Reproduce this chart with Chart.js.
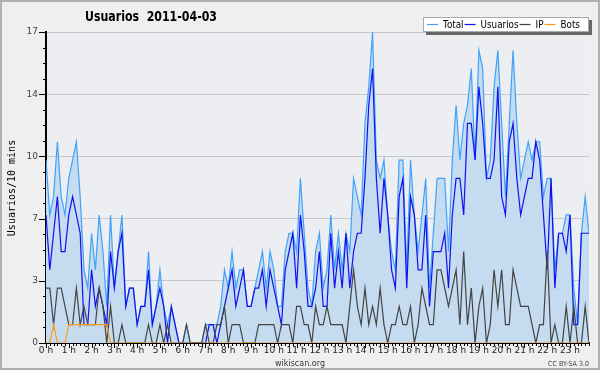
<!DOCTYPE html>
<html>
<head>
<meta charset="utf-8">
<script src="https://cdn.jsdelivr.net/npm/chart.js@4.4.0/dist/chart.umd.min.js"></script>
<style>
  html, body { margin: 0; padding: 0; background: #efefef; }
  canvas { display: block; }
</style>
</head>
<body>
<canvas id="chart" width="600" height="370"></canvas>
<script>
// one value every 10 minutes, 144 points for the day
const total = [
  10, 7, 8, 11, 8, 7, 9, 10, 11, 8, 4, 3, 6, 4, 7, 5, 2, 7, 3, 5, 7, 2, 3, 3,
  1, 2, 2, 5, 1, 2, 4, 2, 1, 2, 1, 0, 0, 1, 0, 0, 0, 0, 1, 1, 1, 1, 2, 4,
  3, 5, 3, 4, 4, 2, 2, 3, 4, 5, 3, 5, 4, 2, 2, 5, 6, 6, 5, 9, 6, 3, 2, 5,
  6, 3, 4, 7, 4, 6, 4, 6, 5, 9, 8, 7, 12, 14, 17, 10, 9, 10, 7, 5, 4, 10, 10, 4,
  10, 7, 5, 7, 9, 3, 6, 9, 9, 9, 5, 10, 13, 10, 12, 13, 15, 10, 16, 15, 9, 10, 14, 16,
  12, 8, 12, 16, 12, 9, 10, 11, 10, 11, 11, 8, 9, 9, 4, 6, 6, 7, 7, 3, 1, 6, 8, 6
];
const usuarios = [
  7, 4, 6, 8, 5, 5, 7, 8, 7, 6, 1, 1, 4, 2, 3, 2, 1, 5, 3, 5, 6, 2, 3, 3,
  1, 2, 2, 4, 1, 2, 3, 2, 0, 2, 1, 0, 0, 0, 0, 0, 0, 0, 0, 1, 1, 0, 1, 2,
  3, 4, 2, 3, 4, 2, 2, 3, 3, 4, 2, 4, 3, 2, 1, 4, 5, 6, 3, 7, 5, 2, 2, 3,
  5, 2, 2, 6, 3, 5, 3, 6, 3, 5, 6, 6, 9, 13, 15, 9, 6, 9, 7, 4, 3, 8, 9, 3,
  8, 7, 4, 4, 7, 2, 5, 5, 5, 6, 3, 7, 9, 9, 7, 12, 12, 10, 14, 12, 9, 9, 10, 14,
  8, 7, 11, 12, 9, 7, 8, 9, 9, 11, 10, 7, 4, 9, 3, 6, 6, 5, 7, 1, 1, 6, 6, 6
];
const ip = [
  3, 3, 1, 3, 3, 2, 1, 1, 3, 1, 2, 1, 1, 1, 3, 2, 0, 2, 0, 0, 1, 0, 0, 0,
  0, 0, 0, 1, 0, 0, 1, 0, 1, 0, 0, 0, 0, 1, 0, 0, 0, 0, 1, 0, 0, 1, 1, 2,
  0, 1, 1, 1, 0, 0, 0, 0, 1, 1, 1, 1, 1, 0, 1, 1, 1, 0, 2, 2, 1, 1, 0, 2,
  1, 1, 2, 1, 1, 1, 1, 0, 2, 4, 2, 1, 3, 1, 2, 1, 3, 1, 0, 1, 1, 2, 1, 1,
  2, 0, 1, 3, 2, 1, 1, 4, 4, 3, 2, 3, 4, 1, 5, 1, 3, 0, 2, 3, 0, 1, 4, 2,
  4, 1, 1, 4, 3, 2, 2, 2, 1, 0, 1, 1, 5, 0, 1, 0, 0, 2, 0, 2, 0, 0, 2, 0
];
const bots = [
  0, 0, 1, 0, 0, 0, 1, 1, 1, 1, 1, 1, 1, 1, 1, 1, 1, 0, 0, 0, 0, 0, 0, 0,
  0, 0, 0, 0, 0, 0, 0, 0, 0, 0, 0, 0, 0, 0, 0, 0, 0, 0, 0, 0, 0, 0, 0, 0,
  0, 0, 0, 0, 0, 0, 0, 0, 0, 0, 0, 0, 0, 0, 0, 0, 0, 0, 0, 0, 0, 0, 0, 0,
  0, 0, 0, 0, 0, 0, 0, 0, 0, 0, 0, 0, 0, 0, 0, 0, 0, 0, 0, 0, 0, 0, 0, 0,
  0, 0, 0, 0, 0, 0, 0, 0, 0, 0, 0, 0, 0, 0, 0, 0, 0, 0, 0, 0, 0, 0, 0, 0,
  0, 0, 0, 0, 0, 0, 0, 0, 0, 0, 0, 0, 0, 0, 0, 0, 0, 0, 0, 0, 0, 0, 0, 0
];
const horas = ['0 h', '1 h', '2 h', '3 h', '4 h', '5 h', '6 h', '7 h', '8 h', '9 h', '10 h', '11 h',
  '12 h', '13 h', '14 h', '15 h', '16 h', '17 h', '18 h', '19 h', '20 h', '21 h', '22 h', '23 h'];
const yTicks = [0, 3.4, 6.8, 10.2, 13.6, 17];
const yLabels = ['0', '3', '7', '10', '14', '17'];

const pts = arr => arr.map((v, i) => ({ x: i, y: v }));
const FONT = '"DejaVu Sans", "Liberation Sans", sans-serif';

// fondo, marco y textos que no son de Chart.js
const decor = {
  id: 'decor',
  beforeDraw(chart) {
    const { ctx, chartArea: a } = chart;
    ctx.save();
    ctx.fillStyle = '#efefef';
    ctx.fillRect(0, 0, 600, 370);
    ctx.strokeStyle = '#b0b0b0';
    ctx.lineWidth = 2;
    ctx.strokeRect(1, 1, 598, 368);
    ctx.fillStyle = '#eceef1';
    ctx.fillRect(a.left, a.top, a.right - a.left, a.bottom - a.top);
    ctx.restore();
  },
  afterDraw(chart) {
    const { ctx, chartArea: a } = chart;
    const xs = chart.scales.x, ys = chart.scales.y;
    ctx.save();

    // minor ticks
    ctx.strokeStyle = '#000';
    ctx.lineWidth = 1;
    ctx.beginPath();
    for (let i = 0; i <= 143; i++) {
      const px = Math.round(xs.getPixelForValue(i)) + 0.5;
      const len = i % 6 === 0 ? 5 : 3;
      ctx.moveTo(px, a.bottom);
      ctx.lineTo(px, a.bottom + len);
    }
    for (let k = 0; k <= 20; k++) {
      const py = Math.round(ys.getPixelForValue(k * 0.85)) + 0.5;
      const len = k % 4 === 0 ? 7 : 3;
      ctx.moveTo(a.left, py);
      ctx.lineTo(a.left - len, py);
    }
    ctx.stroke();

    // title
    ctx.fillStyle = '#000';
    ctx.font = 'bold 14px ' + FONT;
    ctx.textAlign = 'center';
    ctx.textBaseline = 'alphabetic';
    ctx.fillText('Usuarios  2011-04-03', 151, 21, 132);

    // y axis title
    ctx.save();
    ctx.translate(12, 188);
    ctx.rotate(-Math.PI / 2);
    ctx.font = '10px "DejaVu Sans Mono", monospace';
    ctx.textBaseline = 'middle';
    ctx.fillText('Usuarios/10 mins', 0, 0);
    ctx.restore();

    // footer
    ctx.font = '9px ' + FONT;
    ctx.fillStyle = '#333';
    ctx.fillText('wikiscan.org', 300, 366, 50);
    ctx.font = '7px ' + FONT;
    ctx.textAlign = 'right';
    ctx.fillStyle = '#444';
    ctx.fillText('CC BY-SA 3.0', 589, 366, 41);

    // legend
    const x0 = 423, y0 = 17, w = 166, h = 15;
    ctx.fillStyle = '#666';
    ctx.fillRect(x0 + 3, y0 + 3, w, h);
    ctx.fillStyle = '#fff';
    ctx.fillRect(x0, y0, w, h);
    ctx.strokeStyle = '#aaa';
    ctx.lineWidth = 1;
    ctx.strokeRect(x0 + 0.5, y0 + 0.5, w - 1, h - 1);
    ctx.font = '11px ' + FONT;
    ctx.textAlign = 'left';
    ctx.textBaseline = 'middle';
    let x = x0 + 4;
    chart.data.datasets.forEach(ds => {
      const tw = ctx.measureText(ds.label).width * 0.8;
      ctx.strokeStyle = ds.borderColor;
      ctx.lineWidth = 1.2;
      ctx.beginPath();
      ctx.moveTo(x, y0 + h / 2);
      ctx.lineTo(x + 11, y0 + h / 2);
      ctx.stroke();
      ctx.fillStyle = '#000';
      ctx.fillText(ds.label, x + 16, y0 + h / 2 + 0.5, tw);
      x += 16 + tw + 1;
    });
    ctx.restore();
  }
};

new Chart(document.getElementById('chart'), {
  type: 'line',
  data: {
    datasets: [
      { label: 'Total', data: pts(total), borderColor: '#40a2f8', backgroundColor: '#c5dcf0', fill: 'origin', order: 4 },
      { label: 'Usuarios', data: pts(usuarios), borderColor: '#1010f0', fill: false, order: 3 },
      { label: 'IP', data: pts(ip), borderColor: '#444444', fill: false, order: 2 },
      { label: 'Bots', data: pts(bots), borderColor: '#ff9a10', fill: false, order: 1 }
    ]
  },
  options: {
    responsive: false,
    animation: false,
    devicePixelRatio: 1,
    layout: { padding: { top: 32, right: 11, left: 0, bottom: 0 } },
    elements: {
      point: { radius: 0 },
      line: { borderWidth: 1.2, tension: 0 }
    },
    plugins: {
      legend: { display: false },
      title: { display: false },
      tooltip: { enabled: false }
    },
    scales: {
      x: {
        type: 'linear',
        min: 0,
        max: 143,
        z: 1,
        afterFit: s => { s.height = 27; },
        afterBuildTicks: s => { s.ticks = horas.map((_, h) => ({ value: h * 6 })); },
        grid: { drawOnChartArea: false, drawTicks: false },
        border: { color: '#000', width: 2 },
        ticks: {
          autoSkip: false,
          maxRotation: 0,
          padding: 2,
          color: '#222',
          font: { size: 9, family: FONT },
          callback: (v, i) => horas[i]
        }
      },
      y: {
        min: 0,
        max: 17,
        afterFit: s => { s.width = 46; },
        afterBuildTicks: s => { s.ticks = yTicks.map(v => ({ value: v })); },
        grid: { color: '#c8c8c8', lineWidth: 1, drawTicks: false },
        border: { color: '#000', width: 2 },
        ticks: {
          padding: 8,
          color: '#444',
          font: { size: 9, family: FONT },
          callback: (v, i) => yLabels[i]
        }
      }
    }
  },
  plugins: [decor]
});
</script>
</body>
</html>
